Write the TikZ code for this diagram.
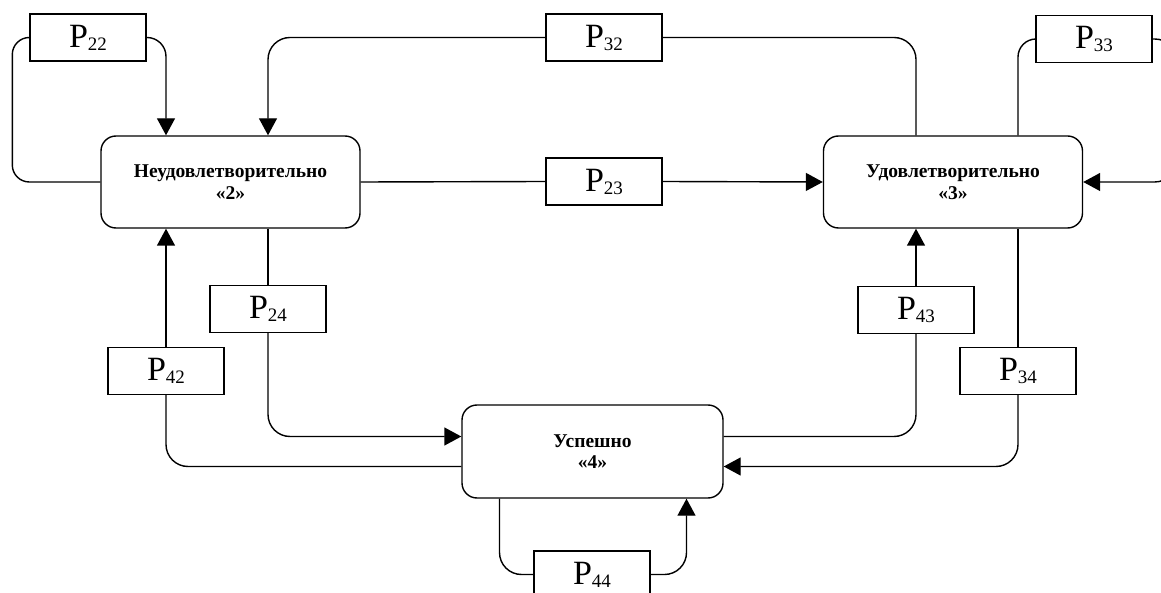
\documentclass[tikz,border=0pt]{standalone}
\usepackage{fontspec}
\setmainfont{Liberation Serif}
\usetikzlibrary{arrows.meta}
\tikzset{
  state/.style={draw, rounded corners=15pt, line width=1.4pt, inner sep=0pt,
    minimum width=259pt, minimum height=92pt, align=center,
    font=\bfseries\fontsize{19.5}{21.5}\selectfont},
  prob/.style={draw, line width=1.4pt, inner sep=0pt, minimum width=116pt, minimum height=47pt},
  link/.style={line width=1.4pt, rounded corners=22pt},
  arr/.style={-{Triangle[length=17pt,width=18pt]}}
}
\newcommand{\pl}[1]{{\fontsize{34}{34}\selectfont P\raisebox{-3pt}{\fontsize{19}{19}\selectfont #1}}}
\begin{document}
\begin{tikzpicture}[x=1pt,y=-1pt]
\useasboundingbox (0,0) rectangle (1161,593);
% states
\node[state] (b2) at (230.5,182) {Неудовлетворительно\\«2»};
\node[state] (b3) at (953,182) {Удовлетворительно\\«3»};
\node[state, minimum width=261pt, minimum height=93pt] (b4) at (592.5,451.5) {Успешно\\«4»};
% probabilities
\node[prob] (p22) at (88,37.5) {\pl{22}};
\node[prob] (p32) at (604,37.5) {\pl{32}};
\node[prob] (p33) at (1094,39) {\pl{33}};
\node[prob] (p23) at (604,181.5) {\pl{23}};
\node[prob] (p24) at (268,309) {\pl{24}};
\node[prob] (p42) at (166,371) {\pl{42}};
\node[prob] (p43) at (916,310) {\pl{43}};
\node[prob] (p34) at (1018,371) {\pl{34}};
\node[prob] (p44) at (592,574.5) {\pl{44}};
% P22 loop
\draw[link, rounded corners=17pt] (b2.west) -- ++(-88,0) |- (p22.west);
\draw[link, arr, rounded corners=19pt] (p22.east) -| (p42 |- b2.north);
% P32
\draw[link] (p43 |- b3.north) |- (p32.east);
\draw[link, arr] (p32.west) -| (p24 |- b2.north);
% P33 loop
\draw[link, rounded corners=18pt] (p34 |- b3.north) |- (p33.west);
\draw[link, arr, rounded corners=22pt] (p33.east) -- ++(24,0) |- (b3.east);
% P23
\draw[link] (b2.east) -- (p23.west);
\draw[link, arr] (p23.east) -- (b3.west);
% P24
\draw[link] (p24 |- b2.south) -- (p24.north);
\draw[link, arr] (p24.south) |- ([yshift=15pt]b4.west);
% P42
\draw[link] ([yshift=-15pt]b4.west) -| (p42.south);
\draw[link, arr] (p42.north) -- (p42 |- b2.south);
% P43
\draw[link] ([yshift=15pt]b4.east) -| (p43.south);
\draw[link, arr] (p43.north) -- (p43 |- b3.south);
% P34
\draw[link] (p34 |- b3.south) -- (p34.north);
\draw[link, arr] (p34.south) |- ([yshift=-15pt]b4.east);
% P44 loop
\draw[link] ([xshift=-93pt]b4.south) |- (p44.west);
\draw[link, arr] (p44.east) -| ([xshift=94pt]b4.south);
\end{tikzpicture}
\end{document}
